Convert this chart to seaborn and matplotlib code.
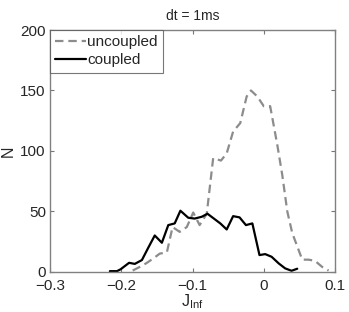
import numpy as np
import pandas as pd
import seaborn as sns
import matplotlib
matplotlib.use('Agg')
import matplotlib.pyplot as plt

# histogram counts
unc_x = [-0.184, -0.174, -0.165, -0.155, -0.146, -0.136, -0.128, -0.118, -0.108, -0.099,
         -0.090, -0.080, -0.071, -0.060, -0.052, -0.043, -0.033, -0.024, -0.018, -0.009,
         0.000, 0.009, 0.019, 0.026, 0.033, 0.040, 0.047, 0.054, 0.063, 0.072, 0.082, 0.091]
unc_n = [1, 4, 7, 11, 15, 16, 37, 33, 37, 49,
         38.6, 48, 94, 92, 98, 116, 123, 145, 150, 145,
         137, 137, 105, 80, 50, 32, 21, 10, 10, 9, 4, 1]

cpl_x = [-0.216, -0.206, -0.201, -0.189, -0.181, -0.171, -0.162, -0.153, -0.143, -0.134,
         -0.125, -0.117, -0.106, -0.097, -0.087, -0.079, -0.070, -0.061, -0.052, -0.043,
         -0.034, -0.025, -0.016, -0.006, 0.002, 0.011, 0.021, 0.030, 0.039, 0.047]
cpl_n = [0.5, 0.5, 2, 7.4, 6.5, 9.7, 20, 30, 24, 38.6,
         40, 50.5, 44.7, 44, 45.5, 48, 44, 40, 35, 46,
         45, 38.6, 40, 13.8, 14.6, 12.4, 6.9, 2.8, 0.8, 2.5]

x_ticks = [-0.3, -0.2, -0.1, 0, 0.1]
x_labels = ['\u22120.3', '\u22120.2', '\u22120.1', '0', '0.1']
y_ticks = [0, 50, 100, 150, 200]

sns.set_style('ticks')
plt.rcParams['font.family'] = ['Liberation Sans', 'DejaVu Sans']
plt.rcParams['mathtext.fontset'] = 'custom'
plt.rcParams['mathtext.rm'] = 'Liberation Sans'
plt.rcParams['mathtext.it'] = 'Liberation Sans'

fig = plt.figure(figsize=(3.49, 3.12), dpi=100)
ax = fig.add_axes([0.1433, 0.129, 0.8166, 0.7747])

df_u = pd.DataFrame({'J': unc_x, 'N': unc_n})
df_c = pd.DataFrame({'J': cpl_x, 'N': cpl_n})

sns.lineplot(data=df_u, x='J', y='N', ax=ax, color='#8c8c8c', lw=1.6,
             linestyle=(0, (3.8, 2.2)), label='uncoupled')
sns.lineplot(data=df_c, x='J', y='N', ax=ax, color='black', lw=1.6, label='coupled')

ax.set_xlim(-0.3, 0.1)
ax.set_ylim(0, 200)
ax.set_xticks(x_ticks)
ax.set_xticklabels(x_labels)
ax.set_yticks(y_ticks)
ax.tick_params(direction='in', top=True, right=True, labelsize=11, length=3,
               color='#777777', width=0.8)
ax.tick_params(axis='x', pad=5)
ax.tick_params(axis='y', pad=3)
for s in ax.spines.values():
    s.set_color('#808080')
    s.set_linewidth(1.0)

ax.set_title('dt = 1ms', fontsize=10, pad=7)
ax.set_xlabel(r'$\mathrm{J}_{\mathrm{Inf}}$', fontsize=11.5, labelpad=0)
ax.set_ylabel('N', fontsize=11.5, labelpad=3)

leg = ax.legend(loc='upper left', fontsize=11, handlelength=2.0, handletextpad=0.1,
                borderpad=0.35, labelspacing=0.25, borderaxespad=0.0, fancybox=False)
leg.get_frame().set_edgecolor('#555555')
leg.get_frame().set_linewidth(0.8)

fig.savefig('out.png', dpi=100)
